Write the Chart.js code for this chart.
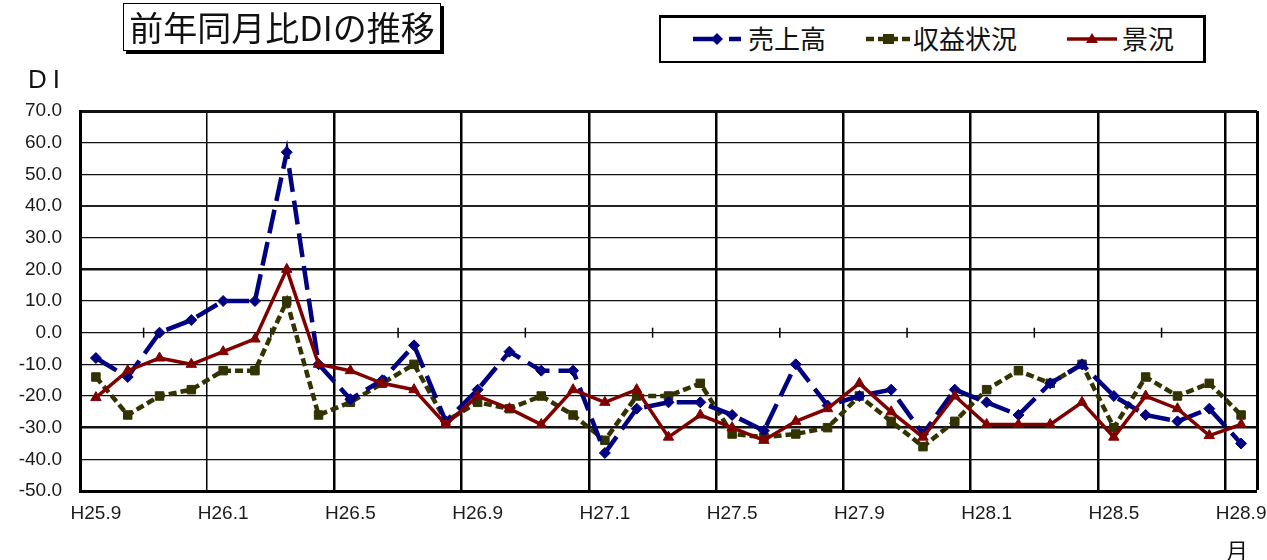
<!DOCTYPE html>
<html>
<head>
<meta charset="utf-8">
<script src="https://cdn.jsdelivr.net/npm/chart.js@4.4.0/dist/chart.umd.min.js"></script>
<style>
  body { margin: 0; background: #fff; }
  #wrap { position: relative; width: 1267px; height: 560px; }
  #title {
    position: absolute; left: 123px; top: 3px; width: 316px; height: 46px;
    border: 1.5px solid #000; box-shadow: 3px 3px 0 #000; background: #fff;
    font: 34px "Noto Sans CJK JP", sans-serif; line-height: 46px; text-align: center; color: #111;
  }
  #legend {
    position: absolute; left: 659px; top: 15px; width: 542px; height: 43px;
    border: 2px solid #000; border-top-width: 3px; border-right-width: 3px; background: #fff;
  }
  .lg { position: absolute; font: 26px "Noto Sans CJK JP", sans-serif; line-height: 30px; color: #111; top: 23px; }
  .sym { position: absolute; top: 31px; }
  .axt { position: absolute; color: #111; }
</style>
</head>
<body>
<div id="wrap">
  <canvas id="chart-di" width="1267" height="560"></canvas>
  <div id="title">前年同月比DIの推移</div>
  <div id="legend"></div>
  <svg class="sym" style="left:693px" width="48" height="16">
    <line x1="0" y1="8" x2="48" y2="8" stroke="#000080" stroke-width="4.5" stroke-dasharray="27 9"/>
    <polygon points="24,2 30,8 24,14 18,8" fill="#000080"/>
  </svg>
  <div class="lg" style="left:748px">売上高</div>
  <svg class="sym" style="left:866px" width="46" height="16">
    <line x1="0" y1="8" x2="46" y2="8" stroke="#333300" stroke-width="4.5" stroke-dasharray="8 4"/>
    <rect x="17" y="3" width="11" height="10" fill="#333300"/>
  </svg>
  <div class="lg" style="left:913px">収益状況</div>
  <svg class="sym" style="left:1067px" width="50" height="16">
    <line x1="0" y1="8" x2="50" y2="8" stroke="#800000" stroke-width="3.5"/>
    <polygon points="25,2 31,12 19,12" fill="#800000"/>
  </svg>
  <div class="lg" style="left:1122px">景況</div>
  <div class="axt" style="left:28px; top:64px; font: 26px 'Liberation Sans', sans-serif; letter-spacing: 6px;">DI</div>
  <div class="axt" style="left:1226px; top:533px; font: 22px 'Noto Sans CJK JP', sans-serif;">月</div>
</div>
<script>
// 月 (H25.9 - H28.9)
var months = ['H25.9', 'H25.10', 'H25.11', 'H25.12',
  'H26.1', 'H26.2', 'H26.3', 'H26.4', 'H26.5', 'H26.6', 'H26.7', 'H26.8', 'H26.9', 'H26.10', 'H26.11', 'H26.12',
  'H27.1', 'H27.2', 'H27.3', 'H27.4', 'H27.5', 'H27.6', 'H27.7', 'H27.8', 'H27.9', 'H27.10', 'H27.11', 'H27.12',
  'H28.1', 'H28.2', 'H28.3', 'H28.4', 'H28.5', 'H28.6', 'H28.7', 'H28.8', 'H28.9'];

// 売上高
var uriage = [-8, -14, 0, 4, 10, 10, 57, -10, -21, -15, -4, -28, -18, -6, -12, -12, -38, -24, -22, -22,
  -26, -31, -10, -23, -20, -18, -32, -18, -22, -26, -16, -10, -20, -26, -28, -24, -35];

// 収益状況
var shueki = [-14, -26, -20, -18, -12, -12, 10, -26, -22, -16, -10, -28, -22, -24, -20, -26, -34, -20, -20, -16,
  -32, -33, -32, -30, -20, -28, -36, -28, -18, -12, -16, -10, -30, -14, -20, -16, -26];

// 景況
var keikyo = [-20.5, -12, -8, -10, -6, -2, 20, -10, -12, -16, -18, -29, -20, -24, -29, -18, -22, -18, -33, -26,
  -30, -34, -28, -24, -16, -25, -33, -20, -29, -29, -29, -22, -33, -20, -24, -32.5, -29];

var yMin = -50, yMax = 70, yStep = 10;

// small tick marks on the 0 line
var zeroTicks = {
  id: 'zeroTicks',
  beforeDatasetsDraw: function (chart) {
    var ctx = chart.ctx, x = chart.scales.x, y = chart.scales.y;
    var y0 = y.getPixelForValue(0);
    ctx.save();
    ctx.strokeStyle = '#000';
    ctx.lineWidth = 1.5;
    for (var i = 1; i + 1 < months.length; i += 4) {
      var xm = (x.getPixelForValue(i) + x.getPixelForValue(i + 1)) / 2;
      ctx.beginPath();
      ctx.moveTo(xm, y0 - 5);
      ctx.lineTo(xm, y0 + 5);
      ctx.stroke();
    }
    ctx.restore();
  }
};

var tickFont = { family: "'Liberation Sans', Arial, sans-serif", size: 19 };

var diChart = document.getElementById('chart-di').getContext('2d');
var chart = new Chart(diChart, {
  type: 'line',
  data: {
    labels: months,
    datasets: [{
      label: '売上高',
      data: uriage,
      borderColor: '#000080',
      backgroundColor: '#000080',
      borderWidth: 4.5,
      borderDash: [24, 9],
      pointStyle: 'rectRot',
      pointRadius: 5.5,
      pointBorderWidth: 1,
      order: 2
    }, {
      label: '収益状況',
      data: shueki,
      borderColor: '#333300',
      backgroundColor: '#333300',
      borderWidth: 4.5,
      borderDash: [8, 4],
      pointStyle: 'rect',
      pointRadius: 6,
      pointBorderWidth: 1,
      order: 3
    }, {
      label: '景況',
      data: keikyo,
      borderColor: '#800000',
      backgroundColor: '#800000',
      borderWidth: 3.5,
      pointStyle: 'triangle',
      pointRadius: 6,
      pointBorderWidth: 1,
      order: 1
    }]
  },
  plugins: [zeroTicks],
  options: {
    responsive: false,
    animation: false,
    layout: { padding: { top: 111, right: 10, bottom: 0, left: 0 }, autoPadding: false },
    plugins: {
      legend: { display: false },
      title: { display: false },
      tooltip: { enabled: false }
    },
    scales: {
      x: {
        offset: true,
        afterFit: function (s) { s.height = 69; s.paddingLeft = 0; s.paddingRight = 0; },
        grid: {
          offset: true,
          drawTicks: false,
          color: '#000',
          lineWidth: function (c) {
            if (c.index === undefined) return 3;
            if (c.index === 0 || c.index % 4 !== 0) return 0;
            return c.index === 4 ? 1.5 : 2.5;
          }
        },
        border: { display: true, color: '#000', width: 3 },
        ticks: {
          autoSkip: false,
          maxRotation: 0,
          padding: 11,
          color: '#1a1a1a',
          font: tickFont,
          callback: function (v, i) { return i % 4 === 0 ? months[i] : ''; }
        }
      },
      y: {
        min: yMin,
        max: yMax,
        afterFit: function (s) { s.width = 80; s.paddingTop = 0; s.paddingBottom = 0; },
        grid: {
          drawTicks: false,
          color: function (c) { return c.tick && c.tick.value === 40 ? '#222' : '#111'; },
          lineWidth: function (c) {
            var v = c.tick ? c.tick.value : 0;
            if (v === 70 || v === -50) return 3;
            if (v === 20 || v === -30) return 2.5;
            if (v === 40) return 2;
            return 1.3;
          }
        },
        border: { display: true, color: '#000', width: 3 },
        ticks: {
          stepSize: yStep,
          padding: 18,
          color: '#1a1a1a',
          font: tickFont,
          callback: function (v) { return v.toFixed(1); }
        }
      }
    }
  }
});
</script>
</body>
</html>
